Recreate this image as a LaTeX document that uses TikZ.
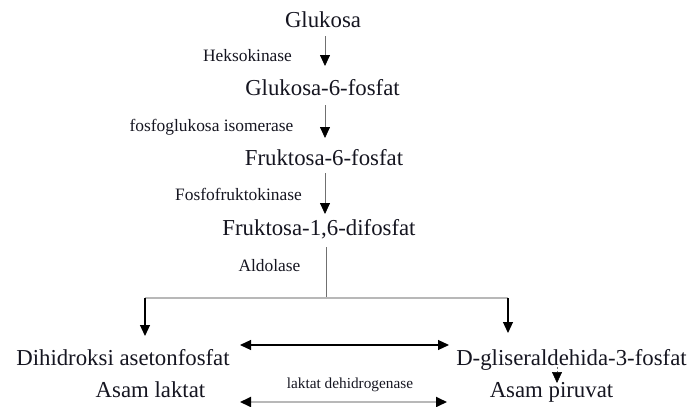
\documentclass[tikz,border=0pt]{standalone}
\usepackage{fontspec}
\setmainfont{Liberation Serif}
\usetikzlibrary{arrows.meta}
\definecolor{txt}{HTML}{151520}
\definecolor{lin}{HTML}{707070}
\definecolor{lightlin}{HTML}{B8B8B8}
\begin{document}
\begin{tikzpicture}[x=1pt,y=-1pt,
  main/.style={font=\fontsize{22.8}{27}\selectfont, text=txt, inner sep=0pt, anchor=base},
  enz/.style={font=\fontsize{17.4}{20}\selectfont, text=txt, inner sep=0pt, anchor=base},
  enzs/.style={font=\fontsize{15.3}{18}\selectfont, text=txt, inner sep=0pt, anchor=base},
  tip/.style={-{Triangle[length=11pt,width=10pt,color=black]}},
  twotip/.style={{Triangle[length=11pt,width=10pt,color=black]}-{Triangle[length=11pt,width=10pt,color=black]}},
  flow/.style={tip, draw=lin, line width=0.8pt},
  blackflow/.style={tip, draw=black, line width=1.1pt},
  branch/.style={draw=lightlin, line width=1.6pt},
  stem/.style={draw=lin, line width=1pt}]
\useasboundingbox (0,0) rectangle (689,407);

% metabolites
\node[main] (glu)  at (323,27)    {Glukosa};
\node[main] (g6p)  at (322.5,95.5) {Glukosa-6-fosfat};
\node[main] (f6p)  at (324,165.5) {Fruktosa-6-fosfat};
\node[main] (fbp)  at (319,235.5) {Fruktosa-1,6-difosfat};
\node[main] (dhap) at (123,365)   {Dihidroksi asetonfosfat};
\node[main] (gap)  at (571.5,365) {D-gliseraldehida-3-fosfat};
\node[main] (lak)  at (150.5,397) {Asam laktat};
\node[main] (pir)  at (551.5,397) {Asam piruvat};

% enzymes
\node[enz] (hk)   at (247.5,61)  {Heksokinase};
\node[enz] (pgi)  at (211.5,131) {fosfoglukosa isomerase};
\node[enz] (pfk)  at (238.5,200) {Fosfofruktokinase};
\node[enz] (ald)  at (269.5,271) {Aldolase};
\node[enzs] (ldh) at (350,388)   {laktat dehidrogenase};

% connector end points
\coordinate (a1s) at (325,36);   \coordinate (a1e) at (325,66);
\coordinate (a2s) at (325,105);  \coordinate (a2e) at (325,138);
\coordinate (a3s) at (325,173);  \coordinate (a3e) at (325,214);
\coordinate (st)  at (326,247);  \coordinate (sj)  at (326,298);
\coordinate (bl)  at (145,298);  \coordinate (br)  at (508,298);
\coordinate (ble) at (145,336);  \coordinate (bre) at (508,333);
\coordinate (d1l) at (240,345);  \coordinate (d1r) at (449,345);
\coordinate (ps)  at (557,367);  \coordinate (pe)  at (557,383);
\coordinate (d2l) at (240,402);  \coordinate (d2r) at (447,402);

% connectors
\draw[flow] (a1s) -- (a1e);
\draw[flow] (a2s) -- (a2e);
\draw[flow] (a3s) -- (a3e);
\draw[stem] (st) -- (sj);
\draw[branch] (bl) -- (br);
\draw[blackflow] (bl) -- (ble);
\draw[blackflow] (br) -- (bre);
\draw[twotip, draw=black, line width=1.1pt] (d1l) -- (d1r);
\draw[tip, draw=lin, line width=0.6pt, dash pattern=on 2pt off 2pt] (ps) -- (pe);
\draw[twotip, draw=lightlin, line width=1.8pt] (d2l) -- (d2r);
\end{tikzpicture}
\end{document}
